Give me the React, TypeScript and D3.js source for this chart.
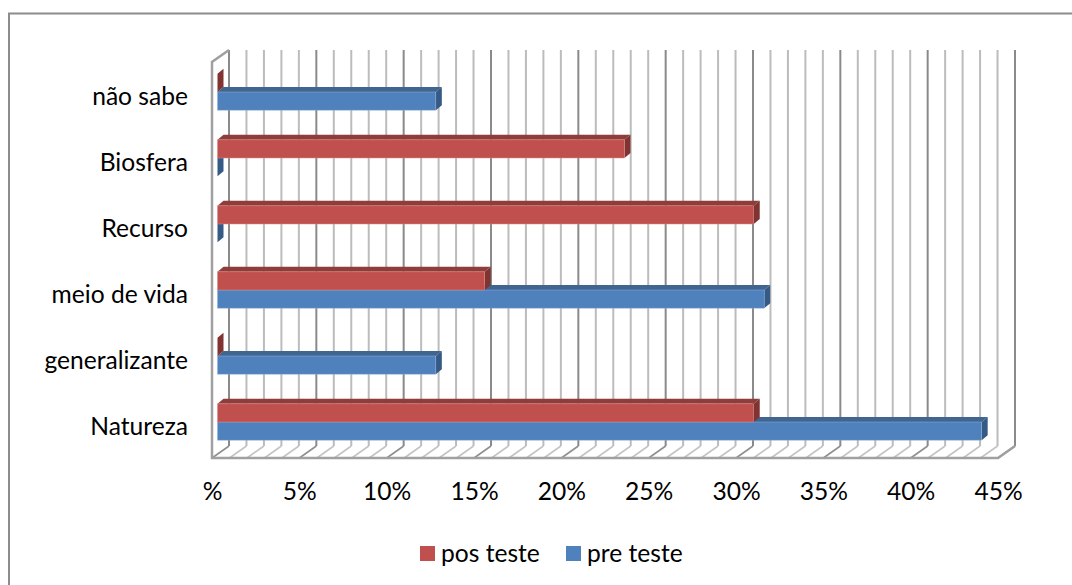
import React, { useEffect, useRef } from "react";
import * as d3 from "d3";

const categories = ["Natureza", "generalizante", "meio de vida", "Recurso", "Biosfera", "não sabe"];
const preTeste = [43.75, 12.5, 31.3, 0, 0, 12.5];
const posTeste = [30.7, 0, 15.3, 30.7, 23.3, 0];
const gridValues = d3.range(0, 46);

const FONT = "Lato, 'Noto Sans', sans-serif";
const FONT_SIZE = 24.6;

export default function App() {
    const ref = useRef<SVGSVGElement>(null);

    useEffect(() => {
        const svg = d3.select(ref.current);
        svg.selectAll("*").remove();

        // front plane of the 3d box, the back wall is shifted by depth
        const margin = { top: 62, right: 74, bottom: 127, left: 212 },
            width = 1072 - margin.left - margin.right,
            height = 585 - margin.top - margin.bottom;
        const depthX = 17, depthY = 12;

        // outer frame, only top and left are in the picture
        svg.append("path")
            .attr("d", "M9,585V13.5H1072")
            .attr("fill", "none")
            .attr("stroke", "#8c8c8c")
            .attr("stroke-width", 2);

        const g = svg.append("g")
            .attr("transform", "translate(" + margin.left + "," + margin.top + ")");

        const x = d3.scaleLinear().domain([0, 45]).range([0, width]);
        const y = d3.scaleBand().domain(categories).range([height, 0]);

        // floor
        g.selectAll("line.floor")
            .data(gridValues)
            .enter()
            .append("line")
            .attr("x1", (d) => x(d))
            .attr("y1", height)
            .attr("x2", (d) => x(d) + depthX)
            .attr("y2", height - depthY)
            .attr("stroke", (d) => d % 5 === 0 ? "#8f8f8f" : "#c4c4c4")
            .attr("stroke-width", 1.6);

        // back wall
        g.selectAll("line.wall")
            .data(gridValues)
            .enter()
            .append("line")
            .attr("x1", (d) => x(d) + depthX)
            .attr("y1", -depthY)
            .attr("x2", (d) => x(d) + depthX)
            .attr("y2", height - depthY)
            .attr("stroke", (d) => d % 5 === 0 ? "#8a8a8a" : "#bcbcbc")
            .attr("stroke-width", 2);

        // box outline: left wall and front floor edge
        g.append("path")
            .attr("d", "M" + (x(0) + depthX) + "," + (-depthY) + "L" + x(0) + ",0V" + height + "H" + x(45) + "L" + (x(45) + depthX) + "," + (height - depthY))
            .attr("fill", "none")
            .attr("stroke", "#a0a0a0")
            .attr("stroke-width", 2.5);

        // bars
        const barH = y.bandwidth() * 0.275;
        const offX = 5.5, offY = 3, barDX = 6, barDY = 5;

        function drawSeries(values: number[], up: boolean, front: string, top: string, side: string, edge: string) {
            g.append("g")
                .selectAll("g")
                .data(values)
                .enter()
                .append("g")
                .each(function (d, i) {
                    const b = d3.select(this);
                    const y0 = y(categories[i])! + y.bandwidth() / 2 - offY - (up ? barH : 0);
                    const e = x(d) + offX;
                    if (d > 0) {
                        b.append("path")
                            .attr("d", "M" + offX + "," + y0 + "L" + (offX + barDX) + "," + (y0 - barDY) + "H" + (e + barDX) + "L" + e + "," + y0 + "Z")
                            .attr("fill", top);
                    }
                    b.append("path")
                        .attr("d", "M" + e + "," + y0 + "L" + (e + barDX) + "," + (y0 - barDY) + "V" + (y0 + barH - barDY) + "L" + e + "," + (y0 + barH) + "Z")
                        .attr("fill", side);
                    if (d > 0) {
                        b.append("rect")
                            .attr("x", offX)
                            .attr("y", y0)
                            .attr("width", e - offX)
                            .attr("height", barH)
                            .attr("fill", front)
                            .attr("stroke", edge)
                            .attr("stroke-width", 0.5);
                    }
                });
        }

        drawSeries(preTeste, false, "#4f81bd", "#3f6590", "#345a85", "#8fb0d8");
        drawSeries(posTeste, true, "#c0504d", "#8f3c3a", "#7f3432", "#d98a88");

        // category labels
        const yAxis = g.append("g")
            .attr("transform", "translate(-24,2)")
            .call(d3.axisLeft(y).tickSize(0).tickPadding(0));
        yAxis.select(".domain").remove();
        yAxis.selectAll("text")
            .attr("font-family", FONT)
            .attr("font-size", FONT_SIZE)
            .attr("fill", "#000");

        // value labels
        const xAxis = g.append("g")
            .attr("transform", "translate(0," + (height + 25) + ")")
            .call(d3.axisBottom(x)
                .tickValues(d3.range(0, 46, 5))
                .tickFormat((d) => d === 0 ? "%" : d + "%")
                .tickSize(0)
                .tickPadding(0));
        xAxis.select(".domain").remove();
        xAxis.selectAll("text")
            .attr("font-family", FONT)
            .attr("font-size", FONT_SIZE)
            .attr("fill", "#000");

        // legend
        const legendItems = [
            { name: "pos teste", color: "#c0504d", x: 420 },
            { name: "pre teste", color: "#4f81bd", x: 566 },
        ];
        const legend = svg.selectAll("g.legend")
            .data(legendItems)
            .enter()
            .append("g")
            .attr("transform", (d) => "translate(" + d.x + ",546)");
        legend.append("rect")
            .attr("width", 15)
            .attr("height", 15)
            .attr("fill", (d) => d.color);
        legend.append("text")
            .attr("x", 21)
            .attr("y", 15.5)
            .attr("font-family", FONT)
            .attr("font-size", FONT_SIZE)
            .attr("fill", "#000")
            .text((d) => d.name);
    }, []);

    return (
        <svg
            ref={ref}
            width={1072}
            height={585}
            style={{ position: "absolute", left: 0, top: 0, background: "#fff" }}
        />
    );
}
